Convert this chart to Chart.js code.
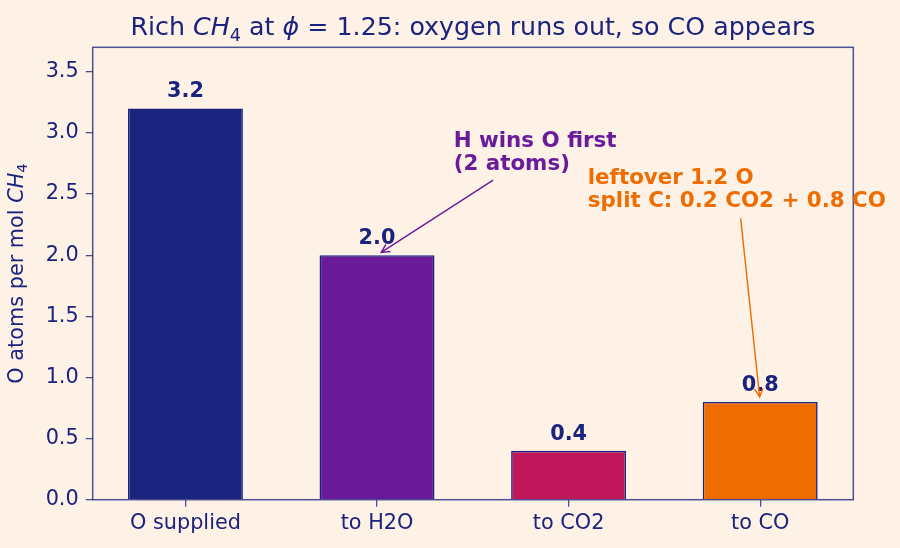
<!DOCTYPE html>
<html><head><meta charset="utf-8">
<script src="https://cdn.jsdelivr.net/npm/chart.js@4"></script>
<style>html,body{margin:0;padding:0;background:#fef1e6;}</style>
</head><body>
<canvas id="c" width="900" height="548"></canvas>
<script>
// ---- data ----
const categories = ['O supplied', 'to H2O', 'to CO2', 'to CO'];
const oAtoms = [3.2, 2.0, 0.4, 0.8];
const barColors = ['#1a237e', '#6a1b9a', '#c2185b', '#ef6c00'];
const yTickValues = [0, 0.5, 1.0, 1.5, 2.0, 2.5, 3.0, 3.5];
const annoTexts = [['H wins O first', '(2 atoms)'], ['leftover 1.2 O', 'split C: 0.2 CO2 + 0.8 CO']];
const annoTextAt = [[1.4, 2.85], [2.1, 2.545]];
const annoFrom = [[1.606, 2.614], [2.898, 2.301]];
const annoTo = [[1, 2.0], [3, 0.8]];
const annoColors = ['#6a1b9a', '#ef6c00'];

const NAVY = '#1a237e';
const SPINE = 'rgba(26,35,126,0.78)';
const BG = '#fef1e6';
const FONT = '"DejaVu Sans", sans-serif';
const FS = 20.8;
const AFS = 21.4;

function drawRich(ctx, segs, size, x, y, align) {
  const fontOf = s => s.st === 'i' ? `italic ${size}px ${FONT}` : s.st === 'sub' ? `${size * 0.7}px ${FONT}` : `${size}px ${FONT}`;
  let total = 0;
  segs.forEach(s => { ctx.font = fontOf(s); s.w = ctx.measureText(s.t).width; total += s.w; });
  let cx = align === 'center' ? x - total / 2 : x;
  ctx.textAlign = 'left';
  ctx.textBaseline = 'alphabetic';
  segs.forEach(s => {
    ctx.font = fontOf(s);
    ctx.fillText(s.t, cx, s.st === 'sub' ? y + size * 0.22 : y);
    cx += s.w;
  });
}

const deco = {
  id: 'deco',
  beforeDraw(chart) {
    const ctx = chart.ctx;
    ctx.save();
    ctx.fillStyle = BG;
    ctx.fillRect(0, 0, chart.width, chart.height);
    ctx.restore();
  },
  afterDatasetsDraw(chart) {
    const ctx = chart.ctx, a = chart.chartArea;
    const xs = chart.scales.x, ys = chart.scales.y;
    ctx.save();
    // frame
    ctx.strokeStyle = SPINE;
    ctx.lineWidth = 1.5;
    ctx.strokeRect(a.left, a.top, a.right - a.left, a.bottom - a.top);
    // value labels
    ctx.fillStyle = NAVY;
    ctx.font = `bold ${FS}px ${FONT}`;
    ctx.textAlign = 'center';
    ctx.textBaseline = 'bottom';
    oAtoms.forEach((v, i) => {
      ctx.fillText(v.toFixed(1), xs.getPixelForValue(i), ys.getPixelForValue(v + 0.05));
    });
    // annotations
    annoTexts.forEach((lines, k) => {
      const col = annoColors[k];
      const tx = xs.getPixelForValue(annoTextAt[k][0]);
      const tc = ys.getPixelForValue(annoTextAt[k][1]);
      ctx.fillStyle = col;
      ctx.font = `bold ${AFS}px ${FONT}`;
      ctx.textAlign = 'left';
      ctx.textBaseline = 'alphabetic';
      ctx.fillText(lines[0], tx, tc - 4.5);
      ctx.fillText(lines[1], tx, tc + 18.5);
      // arrow
      const x0 = xs.getPixelForValue(annoFrom[k][0]), y0 = ys.getPixelForValue(annoFrom[k][1]);
      let x1 = xs.getPixelForValue(annoTo[k][0]), y1 = ys.getPixelForValue(annoTo[k][1]);
      const dx = x1 - x0, dy = y1 - y0, L = Math.hypot(dx, dy);
      const ux = dx / L, uy = dy / L;
      x1 -= ux * 5; y1 -= uy * 5;
      ctx.strokeStyle = col;
      ctx.lineWidth = 1.4;
      ctx.beginPath();
      ctx.moveTo(x0, y0); ctx.lineTo(x1, y1);
      const hl = 8.3, hw = 4.2;
      const bx = x1 - ux * hl, by = y1 - uy * hl;
      ctx.moveTo(bx - uy * hw, by + ux * hw);
      ctx.lineTo(x1, y1);
      ctx.lineTo(bx + uy * hw, by - ux * hw);
      ctx.stroke();
    });
    ctx.restore();
  },
  afterDraw(chart) {
    const ctx = chart.ctx, a = chart.chartArea;
    ctx.save();
    ctx.fillStyle = NAVY;
    drawRich(ctx, [
      {t: 'Rich ', st: 'n'}, {t: 'CH', st: 'i'}, {t: '4', st: 'sub'},
      {t: ' at ', st: 'n'}, {t: 'ϕ', st: 'i'}, {t: ' = 1.25: oxygen runs out, so CO appears', st: 'n'}
    ], 25.3, (a.left + a.right) / 2, 35, 'center');
    ctx.translate(22.5, (a.top + a.bottom) / 2);
    ctx.rotate(-Math.PI / 2);
    drawRich(ctx, [
      {t: 'O atoms per mol ', st: 'n'}, {t: 'CH', st: 'i'}, {t: '4', st: 'sub'}
    ], FS, 0, 0, 'center');
    ctx.restore();
  }
};

new Chart(document.getElementById('c'), {
  type: 'bar',
  data: {
    datasets: [{
      data: oAtoms.map((v, i) => ({x: i, y: v})),
      backgroundColor: barColors,
      borderColor: NAVY,
      borderWidth: 1.6,
      barPercentage: 0.6,
      categoryPercentage: 1.0
    }]
  },
  options: {
    responsive: false,
    animation: false,
    devicePixelRatio: 1,
    layout: {padding: {top: 47.3, right: 46.7, bottom: 0, left: 0}},
    plugins: {legend: {display: false}, tooltip: {enabled: false}},
    scales: {
      x: {
        type: 'linear',
        offset: false,
        min: -0.484, max: 3.486,
        afterFit: s => { s.height = 48.3; },
        afterBuildTicks: s => { s.ticks = categories.map((_, i) => ({value: i})); },
        border: {display: false},
        grid: {offset: false, drawOnChartArea: false, drawTicks: true, tickLength: 7, color: SPINE, lineWidth: 1.3},
        ticks: {
          color: NAVY, font: {family: FONT, size: FS}, padding: 4, maxRotation: 0, autoSkip: false,
          callback: v => categories[v]
        }
      },
      y: {
        min: 0, max: 3.7,
        afterFit: s => { s.width = 92.7; },
        afterBuildTicks: s => { s.ticks = yTickValues.map(v => ({value: v})); },
        border: {display: false},
        grid: {drawOnChartArea: false, drawTicks: true, tickLength: 7, color: SPINE, lineWidth: 1.3},
        ticks: {
          color: NAVY, font: {family: FONT, size: FS}, padding: 7,
          callback: v => Number(v).toFixed(1)
        }
      }
    }
  },
  plugins: [deco]
});
</script>
</body></html>
